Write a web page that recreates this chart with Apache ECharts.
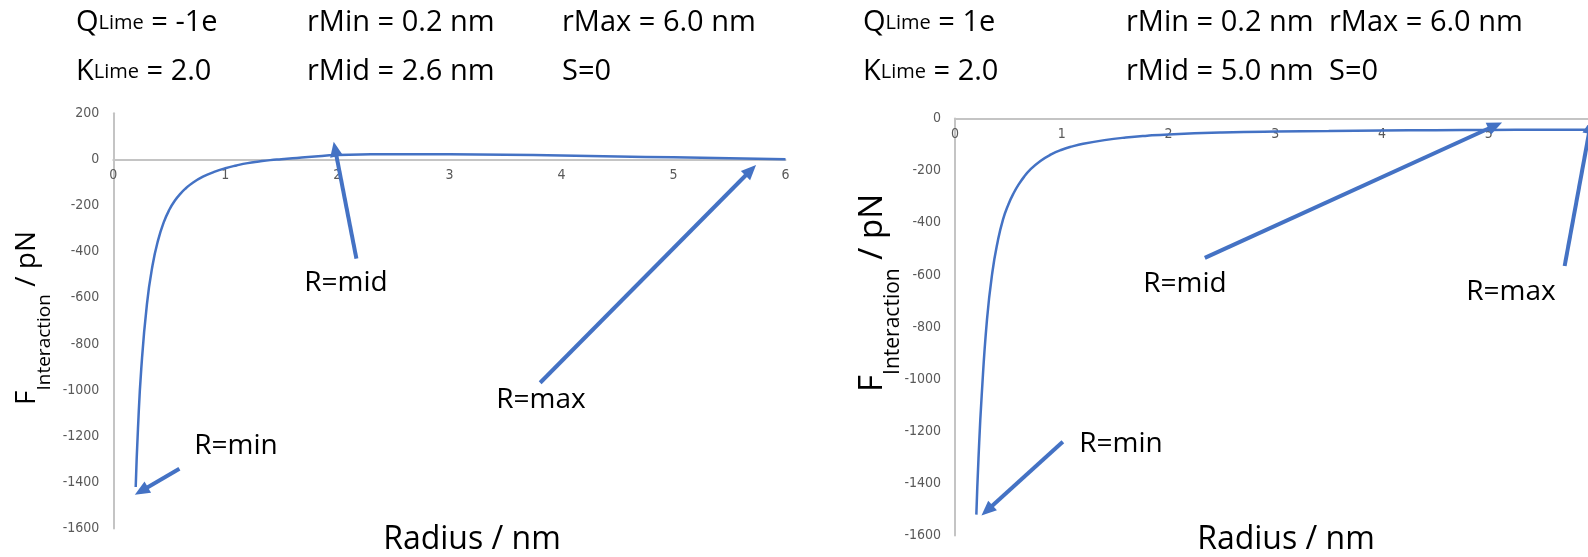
<!DOCTYPE html>
<html><head><meta charset="utf-8">
<script src="https://cdn.jsdelivr.net/npm/echarts@6/dist/echarts.min.js"></script>
<style>html,body{margin:0;padding:0;background:#fff}#c{width:1588px;height:557px}</style>
</head><body><div id="c"></div>
<script>
// ---- data ----
const leftRadius = [0.2,0.22,0.25,0.3,0.35,0.4,0.45,0.5,0.55,0.6,0.65,0.7,0.8,0.9,1.0,1.1,1.2,1.3,1.4,1.5,1.6,1.8,2.0,2.3,2.6,3.0,3.5,4.0,4.5,5.0,5.5,6.0];
const leftForce  = [-1420,-1170,-905,-628,-460,-350,-273,-218,-178,-148,-124,-104,-75,-54,-38,-26,-16,-9,-3,1,5,13,19,22,23,22,20,17,13,9,5,1];
const rightRadius = [0.2,0.22,0.25,0.3,0.35,0.4,0.45,0.5,0.55,0.6,0.65,0.7,0.8,0.9,1.0,1.1,1.2,1.4,1.6,1.8,2.0,2.5,3.0,3.5,4.0,4.5,5.0,5.5,6.0];
const rightForce  = [-1520,-1305,-1063,-770,-590,-472,-387,-330,-286,-251,-222,-198,-163,-138,-120,-107,-97,-83,-73,-66,-61,-54,-50,-48,-46,-45,-44,-43,-43];
// annotation arrows in data units: [from, to]
const leftArrowFrom  = [[2.17,-430],[3.81,-968],[0.59,-1341]];
const leftArrowTo    = [[1.98,45],[5.69,-47],[0.25,-1437]];
const rightArrowFrom = [[2.34,-535],[5.71,-566],[1.01,-1240]];
const rightArrowTo   = [[5.06,-27],[5.95,-30],[0.30,-1504]];
const annotationLabels = ['R=mid','R=max','R=min'];
const xTickRange = [0, 6, 1];          // min, max, interval
const leftYRange = [-1600, 200, 200];
const rightYRange = [-1600, 0, 200];
const headerLeft  = [['Q','Lime',' = -1e'], 'rMin = 0.2 nm', 'rMax = 6.0 nm', ['K','Lime',' = 2.0'], 'rMid = 2.6 nm', 'S=0'];
const headerRight = [['Q','Lime',' = 1e'],  'rMin = 0.2 nm', 'rMax = 6.0 nm', ['K','Lime',' = 2.0'], 'rMid = 5.0 nm', 'S=0'];
const xTitle = 'Radius / nm';
const yTitle = ['F','Interaction',' / pN'];

// ---- chart ----
const BLUE = '#4472C4';
const BIG = "'Open Sans', 'Noto Sans', sans-serif";
const SMALL = "'Liberation Sans Narrow', 'DejaVu Sans Condensed', sans-serif";
const chart = echarts.init(document.getElementById('c'), null, {renderer:'canvas'});

function xAxis(gi, margin){
  return {type:'value', gridIndex:gi, position:'bottom', min:xTickRange[0], max:xTickRange[1], interval:xTickRange[2],
    axisLine:{onZero:false, lineStyle:{color:'#c4c4c4', width:2}}, axisTick:{show:false}, splitLine:{show:false},
    axisLabel:{color:'#595959', fontFamily:SMALL, fontSize:14, margin:margin}};
}
function yAxis(gi, r){
  return {type:'value', gridIndex:gi, min:r[0], max:r[1], interval:r[2],
    axisLine:{show:true, onZero:false, lineStyle:{color:'#c4c4c4', width:2}}, axisTick:{show:false}, splitLine:{show:false},
    axisLabel:{color:'#595959', fontFamily:SMALL, fontSize:14, margin:14, formatter:v=>String(v)}};
}
function arrows(from, to){
  return from.map((f,i)=>[{coord:f},{coord:to[i]}]);
}
function lineSeries(gi, xs, ys, from, to){
  return {type:'line', xAxisIndex:gi, yAxisIndex:gi, data:xs.map((x,i)=>[x,ys[i]]),
    showSymbol:false, smooth:0.5, lineStyle:{color:BLUE, width:2.5}, itemStyle:{color:BLUE},
    silent:true, animation:false, clip:false,
    markLine:{silent:true, animation:false, symbol:['none','triangle'], symbolSize:[13,15], label:{show:false},
      lineStyle:{color:BLUE, width:4, type:'solid'}, emphasis:{disabled:true}, data:arrows(from,to)}};
}
function headerTexts(h, xs, ys, size, sub){
  const out = [];
  h.forEach((t,i)=>{
    const x = xs[i%3], y = ys[Math.floor(i/3)];
    let style;
    if (Array.isArray(t)) {
      style = {text:'{a|'+t[0]+'}{b|'+t[1]+'}{a|'+t[2]+'}', rich:{
        a:{fontFamily:BIG, fontSize:size, fill:'#000', verticalAlign:'bottom'},
        b:{fontFamily:BIG, fontSize:sub, fill:'#000', verticalAlign:'bottom', padding:[0,0,4,0]}}};
    } else {
      style = {text:t, fontFamily:BIG, fontSize:size, fill:'#000'};
    }
    style.align='left'; style.verticalAlign='middle';
    out.push({type:'text', x:x, y:y, silent:true, style:style});
  });
  return out;
}
function yTitleText(cx, cy, big, sub, pad){
  return {type:'text', x:cx, y:cy, rotation:Math.PI/2, silent:true, style:{
    text:'{a|'+yTitle[0]+'}{b|'+yTitle[1]+'}{a|'+yTitle[2]+'}', align:'center', verticalAlign:'middle',
    rich:{a:{fontFamily:BIG, fontSize:big, fill:'#000', verticalAlign:'bottom', padding:[0,0,pad,0]},
          b:{fontFamily:BIG, fontSize:sub, fill:'#000', verticalAlign:'bottom'}}}};
}
function label(t, x, y, size){
  return {type:'text', x:x, y:y, silent:true, style:{text:t, fontFamily:BIG, fontSize:size, fill:'#000', align:'center', verticalAlign:'middle'}};
}

const graphics = [].concat(
  headerTexts(headerLeft, [76,307,562], [23,72], 29, 20),
  headerTexts(headerRight, [863,1126,1329], [23,72], 29, 20),
  [yTitleText(34, 318, 28, 19, 13), yTitleText(880, 293, 33, 21, 15),
   label(xTitle, 472, 540, 32), label(xTitle, 1286, 540, 32),
   label(annotationLabels[0], 346, 283, 28), label(annotationLabels[1], 541, 400, 28), label(annotationLabels[2], 236, 446, 28),
   label(annotationLabels[0], 1185, 284, 28), label(annotationLabels[1], 1511, 292, 28), label(annotationLabels[2], 1121, 444, 28)]
);

chart.setOption({
  animation:false,
  backgroundColor:'#fff',
  grid:[{left:113.3, width:672.2, top:113.3, height:415.2, containLabel:false, outerBoundsMode:'none'},
        {left:955, width:640.6, top:118.5, height:417, containLabel:false, outerBoundsMode:'none'}],
  xAxis:[xAxis(0, 9), xAxis(1, 9)],
  yAxis:[yAxis(0, leftYRange), yAxis(1, rightYRange)],
  series:[lineSeries(0, leftRadius, leftForce, leftArrowFrom, leftArrowTo),
          lineSeries(1, rightRadius, rightForce, rightArrowFrom, rightArrowTo)],
  graphic:graphics
});
// move each x axis up to the y = 0 line (labels stay under the line)
const ranges = [leftYRange, rightYRange];
const offs = ranges.map((r,i)=>{
  const pZero = chart.convertToPixel({yAxisIndex:i}, 0);
  const pMin = chart.convertToPixel({yAxisIndex:i}, r[0]);
  return pZero - pMin;
});
chart.setOption({xAxis:[{offset:offs[0]},{offset:offs[1]}]});
</script></body></html>
